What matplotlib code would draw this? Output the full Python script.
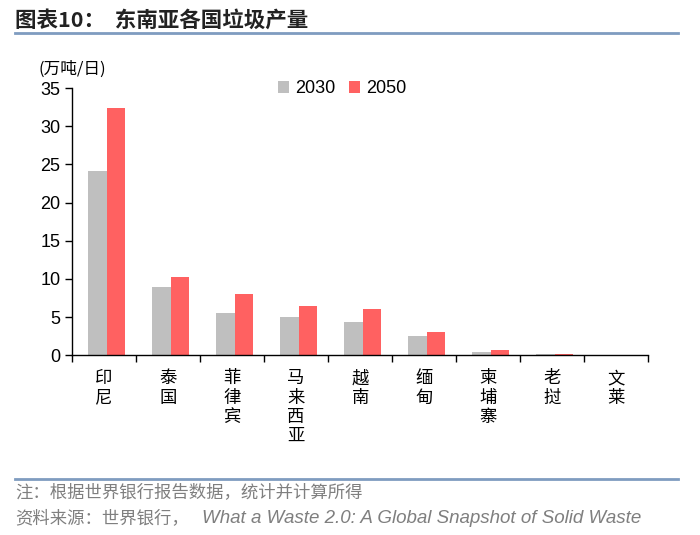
import numpy as np
import matplotlib
matplotlib.use("Agg")
import matplotlib.pyplot as plt
from matplotlib.lines import Line2D

plt.rcParams['font.family'] = ['Liberation Sans', 'Noto Sans CJK SC', 'DejaVu Sans']

countries = ["印尼", "泰国", "菲律宾", "马来西亚", "越南", "缅甸", "柬埔寨", "老挝", "文莱"]
y2030 = [24.1, 8.9, 5.5, 5.0, 4.3, 2.5, 0.45, 0.12, 0.06]
y2050 = [32.4, 10.2, 8.0, 6.5, 6.0, 3.05, 0.7, 0.2, 0.09]
years = ["2030", "2050"]
colors = ["#BFBFBF", "#FF6161"]

fig = plt.figure(figsize=(7, 5.35), dpi=100)
ax = fig.add_axes([0.103, 0.336, 0.823, 0.4995])

x = np.arange(len(countries))
w = 0.29
ax.bar(x - w/2 + 0.04, y2030, w, color=colors[0], label=years[0])
ax.bar(x + w/2 + 0.04, y2050, w, color=colors[1], label=years[1])

ax.set_xlim(-0.5, len(countries) - 0.5)
ax.set_ylim(0, 35)
ax.set_yticks(range(0, 36, 5))
ax.set_xticks(np.arange(len(countries) + 1) - 0.5)
ax.set_xticklabels([])
ax.set_xticks(x, minor=True)
ax.set_xticklabels(["\n".join(c) for c in countries], minor=True,
                   family=['Noto Sans CJK SC'], fontsize=12.5, linespacing=1.1, va='top')
ax.tick_params(axis='x', which='minor', length=0, pad=10)
ax.tick_params(axis='x', which='major', length=5, width=1, direction='out')
ax.tick_params(axis='y', length=5, width=1, direction='out', labelsize=13)
for s in ["top", "right"]:
    ax.spines[s].set_visible(False)
ax.spines["left"].set_linewidth(1)
ax.spines["bottom"].set_linewidth(1)

ax.legend(loc='upper left', bbox_to_anchor=(0.33, 1.09), ncol=2, frameon=False,
          fontsize=13, handlelength=0.6, handleheight=0.6, handletextpad=0.3,
          columnspacing=0.8)

fig.text(0.055, 0.862, "(万吨/日)", fontsize=12, family=['Noto Sans CJK SC'])

fig.text(0.022, 0.962, "图表10：  东南亚各国垃圾产量", fontsize=15.5, fontweight='bold',
         family=['Noto Sans CJK SC'], va='center', color='#222222')
fig.add_artist(Line2D([0.022, 0.968], [0.938, 0.938], color='#7F9CC0', lw=2))
fig.add_artist(Line2D([0.022, 0.968], [0.105, 0.105], color='#7F9CC0', lw=2))

fig.text(0.022, 0.080, "注：根据世界银行报告数据，统计并计算所得", fontsize=12.5,
         color='#7F7F7F', family=['Noto Sans CJK SC'], va='center')
fig.text(0.022, 0.031, "资料来源：世界银行，", fontsize=12.5,
         color='#7F7F7F', family=['Noto Sans CJK SC'], va='center')
fig.text(0.289, 0.031, "What a Waste 2.0: A Global Snapshot of Solid Waste", fontsize=13.5,
         color='#7F7F7F', style='italic', family=['Liberation Sans'], va='center')

fig.savefig("out.png", dpi=100)
